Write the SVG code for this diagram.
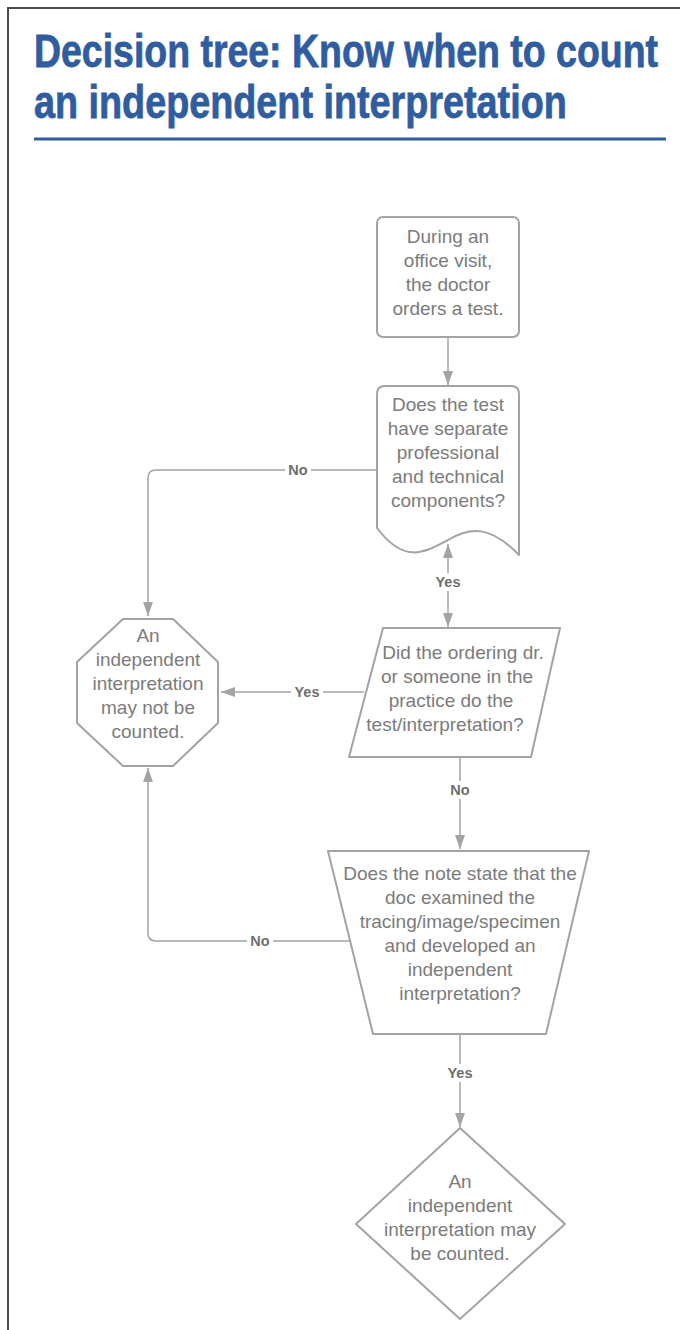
<svg xmlns="http://www.w3.org/2000/svg" width="680" height="1330" viewBox="0 0 680 1330">
<style>
.title{font-family:"Liberation Sans",Arial,sans-serif;font-weight:bold;font-size:47px;fill:#2f5d9f;stroke:#2f5d9f;stroke-width:0.8}
.shape{fill:#fff;stroke:#a3a3a3;stroke-width:2;stroke-linejoin:round}
.t{font-family:"Liberation Sans",Arial,sans-serif;font-size:19px;fill:#7b7b7b;text-anchor:middle}
.conn{fill:none;stroke:#a3a3a3;stroke-width:1.5}
.lbl{font-family:"Liberation Sans",Arial,sans-serif;font-size:14.5px;font-weight:bold;fill:#6e6e6e;text-anchor:middle}
.lblbg{fill:#fff}
</style>
<defs>
<marker id="arr" markerUnits="userSpaceOnUse" markerWidth="14" markerHeight="10" refX="14" refY="5" orient="auto-start-reverse">
<path d="M0,0 L14,5 L0,10 z" fill="#a3a3a3"/>
</marker>
</defs>
<rect x="0" y="0" width="680" height="1330" fill="#fff"/>
<rect x="8" y="8" width="720" height="1400" fill="none" stroke="#4a4a4a" stroke-width="2"/>
<g id="title">
<text class="title" transform="translate(34,67) scale(0.8,1)" x="0" y="0" textLength="780" lengthAdjust="spacingAndGlyphs">Decision tree: Know when to count</text>
<text class="title" transform="translate(34,118) scale(0.8,1)" x="0" y="0" textLength="666" lengthAdjust="spacingAndGlyphs">an independent interpretation</text>
<line x1="34" y1="139" x2="666" y2="139" stroke="#2f5d9f" stroke-width="3"/>
</g>
<g id="connectors">
<path class="conn" d="M448,337 L448,385" marker-end="url(#arr)"/>
<path class="conn" d="M377,470 L156,470 Q148,470 148,478 L148,616" marker-end="url(#arr)"/>
<path class="conn" d="M448,544 L448,627" marker-start="url(#arr)" marker-end="url(#arr)"/>
<path class="conn" d="M364,692 L221,692" marker-end="url(#arr)"/>
<path class="conn" d="M460,757 L460,849" marker-end="url(#arr)"/>
<path class="conn" d="M351,941 L156,941 Q148,941 148,933 L148,768" marker-end="url(#arr)"/>
<path class="conn" d="M460,1034 L460,1127" marker-end="url(#arr)"/>
<rect class="lblbg" x="285" y="461" width="26" height="18"/>
<text class="lbl" x="298" y="475">No</text>
<rect class="lblbg" x="432" y="573" width="32" height="18"/>
<text class="lbl" x="448" y="587">Yes</text>
<rect class="lblbg" x="291" y="683" width="32" height="18"/>
<text class="lbl" x="307" y="697">Yes</text>
<rect class="lblbg" x="447" y="781" width="26" height="18"/>
<text class="lbl" x="460" y="795">No</text>
<rect class="lblbg" x="247" y="932" width="26" height="18"/>
<text class="lbl" x="260" y="946">No</text>
<rect class="lblbg" x="444" y="1064" width="32" height="18"/>
<text class="lbl" x="460" y="1078">Yes</text>
</g>
<g id="start">
<rect class="shape" x="377" y="217" width="142" height="120" rx="6"/>
<text class="t" x="448" y="243">During an</text>
<text class="t" x="448" y="267">office visit,</text>
<text class="t" x="448" y="291">the doctor</text>
<text class="t" x="448" y="315">orders a test.</text>
</g>
<g id="q1">
<path class="shape" d="M385,386 L511,386 Q519,386 519,394 L519,555 C490,525 470,527 448,540 C425,552 405,565 377,528 L377,394 Q377,386 385,386 Z"/>
<text class="t" x="448" y="411">Does the test</text>
<text class="t" x="448" y="435">have separate</text>
<text class="t" x="448" y="459">professional</text>
<text class="t" x="448" y="483">and technical</text>
<text class="t" x="448" y="507">components?</text>
</g>
<g id="q2">
<polygon class="shape" points="383,628 560,628 531,757 349,757"/>
<text class="t" x="463" y="659">Did the ordering dr.</text>
<text class="t" x="457" y="683">or someone in the</text>
<text class="t" x="451" y="707">practice do the</text>
<text class="t" x="445" y="731">test/interpretation?</text>
</g>
<g id="notcounted">
<polygon class="shape" points="123,619 173,619 218,662 218,723 173,766 123,766 77,723 77,662"/>
<text class="t" x="148" y="642">An</text>
<text class="t" x="148" y="666">independent</text>
<text class="t" x="148" y="690">interpretation</text>
<text class="t" x="148" y="714">may not be</text>
<text class="t" x="148" y="738">counted.</text>
</g>
<g id="q3">
<polygon class="shape" points="328,851 589,851 546,1034 373,1034"/>
<text class="t" x="460" y="880">Does the note state that the</text>
<text class="t" x="460" y="904">doc examined the</text>
<text class="t" x="460" y="928">tracing/image/specimen</text>
<text class="t" x="460" y="952">and developed an</text>
<text class="t" x="460" y="976">independent</text>
<text class="t" x="460" y="1000">interpretation?</text>
</g>
<g id="counted">
<polygon class="shape" points="460,1128 565,1224 460,1319 356,1224"/>
<text class="t" x="460" y="1188">An</text>
<text class="t" x="460" y="1212">independent</text>
<text class="t" x="460" y="1236">interpretation may</text>
<text class="t" x="460" y="1260">be counted.</text>
</g>
</svg>
